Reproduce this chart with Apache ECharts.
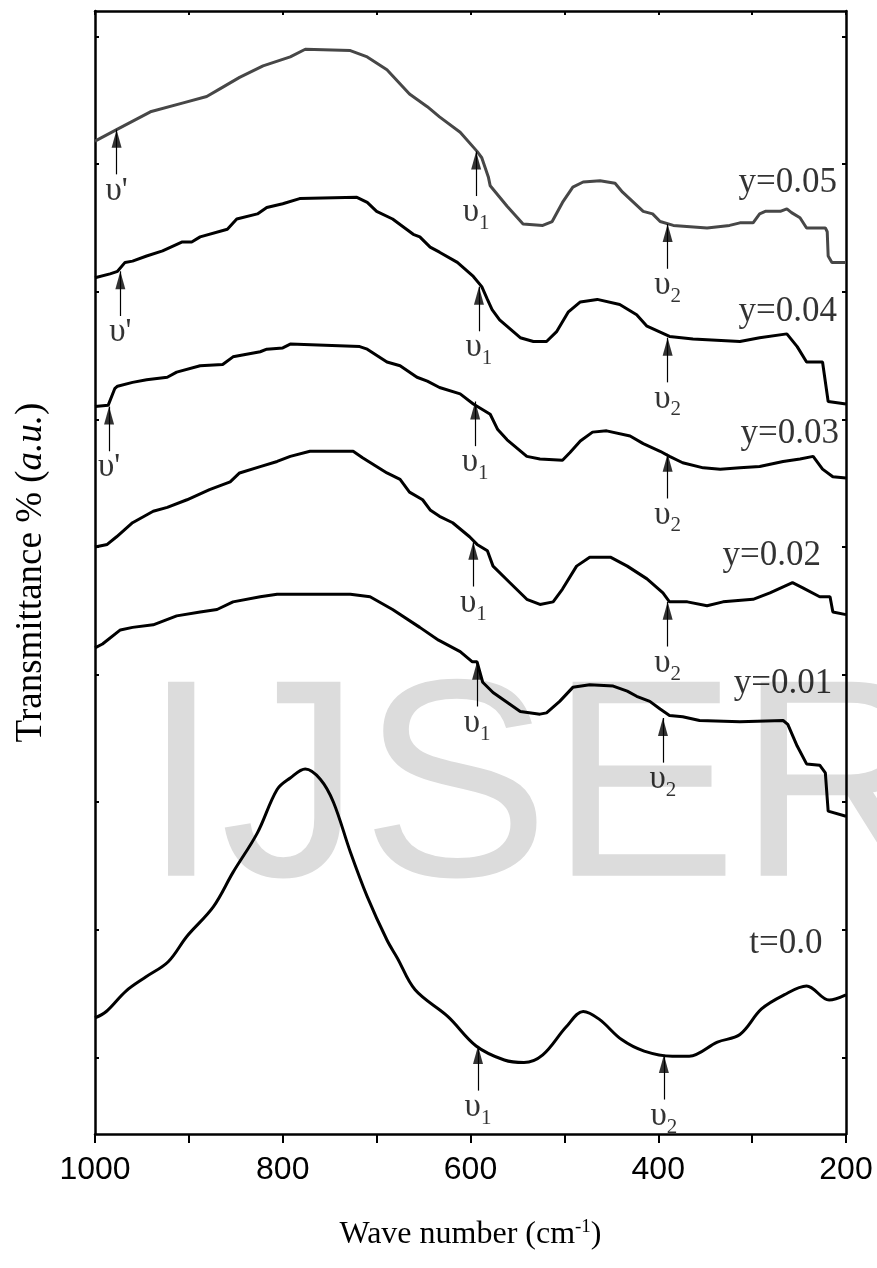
<!DOCTYPE html>
<html>
<head>
<meta charset="utf-8">
<script src="https://cdn.jsdelivr.net/npm/echarts@6/dist/echarts.min.js"></script>
<style>
  html, body { margin: 0; padding: 0; background: #fff; }
  #main { width: 877px; height: 1268px; }
</style>
</head>
<body>
<div id="main"></div>
<script>
// FTIR spectra, transmittance in arbitrary units, [wave number, value]
var curveY005 = [[1000,7.18],[977,7.27],[941,7.41],[906,7.48],[881,7.53],[867,7.59],[846,7.68],[821,7.77],[792,7.84],[776,7.90],[728,7.89],[710,7.84],[689,7.74],[665,7.55],[646,7.45],[633,7.37],[611,7.25],[593,7.10],[588,7.05],[581,6.90],[579,6.83],[561,6.67],[544,6.53],[523,6.52],[513,6.55],[502,6.70],[491,6.82],[480,6.86],[462,6.87],[446,6.85],[438,6.78],[416,6.63],[406,6.61],[398,6.55],[384,6.52],[348,6.50],[324,6.52],[313,6.54],[299,6.54],[292,6.61],[286,6.63],[270,6.63],[263,6.65],[258,6.62],[249,6.58],[242,6.50],[222,6.50],[220,6.47],[219,6.28],[215,6.23],[200,6.23]];
var curveY004 = [[1000,6.11],[984,6.14],[976,6.16],[968,6.23],[960,6.24],[945,6.28],[928,6.32],[907,6.39],[897,6.39],[888,6.43],[859,6.49],[849,6.57],[827,6.61],[817,6.66],[800,6.69],[782,6.73],[721,6.74],[710,6.70],[700,6.63],[683,6.57],[661,6.45],[654,6.43],[643,6.35],[633,6.31],[614,6.23],[597,6.12],[588,6.04],[582,5.94],[577,5.86],[569,5.78],[547,5.64],[533,5.61],[519,5.61],[508,5.69],[496,5.84],[483,5.92],[465,5.94],[441,5.90],[423,5.82],[412,5.73],[388,5.65],[363,5.63],[313,5.61],[292,5.64],[263,5.67],[252,5.57],[242,5.45],[225,5.45],[219,5.14],[200,5.12]];
var curveY003 = [[1000,5.10],[986,5.11],[979,5.24],[976,5.26],[960,5.29],[945,5.31],[923,5.33],[913,5.37],[888,5.42],[864,5.43],[853,5.49],[824,5.53],[817,5.55],[800,5.56],[792,5.59],[718,5.57],[710,5.55],[689,5.45],[675,5.42],[657,5.33],[646,5.30],[633,5.25],[611,5.20],[597,5.12],[579,5.04],[571,4.92],[561,4.84],[540,4.71],[526,4.69],[502,4.68],[494,4.74],[483,4.83],[470,4.90],[455,4.91],[430,4.87],[416,4.81],[398,4.75],[388,4.71],[374,4.66],[352,4.62],[334,4.61],[313,4.62],[292,4.63],[267,4.67],[249,4.69],[235,4.71],[225,4.61],[214,4.55],[200,4.54]];
var curveY002 = [[1000,4.00],[987,4.02],[977,4.08],[960,4.19],[938,4.28],[923,4.31],[902,4.37],[878,4.45],[856,4.51],[846,4.58],[824,4.63],[806,4.67],[792,4.71],[771,4.75],[725,4.75],[715,4.70],[689,4.58],[675,4.53],[665,4.43],[651,4.37],[643,4.29],[633,4.24],[619,4.19],[601,4.08],[593,4.02],[582,3.97],[576,3.85],[558,3.72],[540,3.59],[526,3.55],[512,3.57],[502,3.67],[487,3.85],[473,3.92],[451,3.92],[433,3.85],[412,3.75],[395,3.64],[388,3.57],[369,3.57],[348,3.54],[331,3.57],[299,3.59],[281,3.64],[257,3.72],[246,3.68],[228,3.61],[217,3.61],[214,3.49],[200,3.47]];
var curveY001 = [[1000,3.21],[992,3.24],[973,3.35],[960,3.37],[938,3.39],[913,3.46],[888,3.49],[870,3.51],[853,3.57],[824,3.61],[806,3.63],[728,3.63],[707,3.61],[683,3.51],[654,3.37],[634,3.27],[611,3.18],[598,3.10],[593,3.10],[587,2.94],[576,2.86],[547,2.71],[526,2.69],[519,2.70],[505,2.79],[491,2.90],[473,2.92],[448,2.91],[433,2.87],[423,2.83],[409,2.79],[398,2.73],[388,2.68],[374,2.67],[356,2.64],[313,2.63],[267,2.64],[262,2.61],[252,2.44],[242,2.30],[228,2.29],[222,2.23],[219,1.93],[200,1.89]];
var curveT00 = [[1000,0.31],[988,0.36],[967,0.52],[946,0.63],[922,0.75],[902,0.95],[874,1.18],[853,1.45],[827,1.76],[806,2.10],[792,2.19],[776,2.26],[760,2.18],[746,2.00],[728,1.61],[710,1.26],[689,0.92],[678,0.78],[659,0.53],[624,0.32],[594,0.09],[564,-0.02],[543,-0.04],[523,0.02],[498,0.24],[480,0.36],[463,0.30],[439,0.14],[415,0.05],[385,0.01],[367,0.01],[337,0.12],[313,0.18],[290,0.38],[266,0.49],[242,0.56],[218,0.45],[200,0.49]];

// curve names and where their labels sit
var curveNames = ['y=0.05', 'y=0.04', 'y=0.03', 'y=0.02', 'y=0.01', 't=0.0'];
var curveLabelPos = [[262,6.85],[262,5.84],[260,4.89],[279,3.93],[267,2.93],[264,0.89]];

// band arrows: [wave number, curve value at tip, mark]
var bandMarks = [
  [977,7.27,"'"],[594,7.10,'1'],[390,6.53,'2'],
  [973,6.16,"'"],[591,6.04,'1'],[390,5.64,'2'],
  [985,5.10,"'"],[595,5.14,'1'],[390,4.73,'2'],
  [597,4.04,'1'],[390,3.57,'2'],
  [593,3.10,'1'],[395,2.66,'2'],
  [592,0.09,'1'],[394,0.02,'2']
];
var arrowLen = 0.35;

var xTicks = [200, 1000, 100];      // min, max, step
var yTickValues = [0,1,2,3,4,5,6,7,8];

var chart = echarts.init(document.getElementById('main'));
var serif = '"Liberation Serif", "Times New Roman", serif';
var sans = '"Liberation Sans", Arial, sans-serif';

function curveSeries(name, data, color) {
  return {
    name: name,
    type: 'line',
    data: data,
    showSymbol: false,
    smooth: name === 't=0.0' ? 0.35 : false,
    lineStyle: { color: color, width: 3 },
    z: 3
  };
}

var option = {
  backgroundColor: '#fff',
  animation: false,
  grid: { left: 95, right: 31, top: 11, bottom: 134 },
  graphic: [{
    type: 'text',
    z: -10,
    style: {
      x: 142, y: 798,
      text: 'IJSER',
      font: '282px "Liberation Sans", Arial, sans-serif',
      fill: '#dcdcdc',
      verticalAlign: 'middle'
    }
  }],
  xAxis: [{
    type: 'value',
    min: xTicks[0], max: xTicks[1], interval: xTicks[2],
    inverse: true,
    position: 'bottom',
    name: 'Wave number (cm{sup|-1})',
    nameLocation: 'middle',
    nameGap: 84,
    nameTextStyle: {
      fontFamily: serif, fontSize: 32, color: '#000',
      rich: { sup: { fontFamily: serif, fontSize: 19, color: '#000', padding: [0, 0, 14, 0], verticalAlign: 'bottom' } }
    },
    axisLine: { onZero: false, lineStyle: { color: '#000', width: 2.5 } },
    axisTick: { inside: false, length: 9, lineStyle: { color: '#000', width: 2 } },
    axisLabel: {
      margin: 20, fontFamily: sans, fontSize: 32, color: '#000',
      formatter: function (v) { return v % 200 === 0 ? String(v) : ''; }
    },
    splitLine: { show: false }
  }, {
    type: 'value',
    min: xTicks[0], max: xTicks[1], interval: xTicks[2],
    inverse: true,
    position: 'top',
    axisLine: { onZero: false, lineStyle: { color: '#000', width: 2.5 } },
    axisTick: { inside: true, length: 4, lineStyle: { color: '#000', width: 2 } },
    axisLabel: { show: false },
    splitLine: { show: false }
  }],
  yAxis: [{
    type: 'value',
    min: -0.6, max: 8.2,
    position: 'left',
    name: 'Transmittance % ({it|a.u.})',
    nameLocation: 'middle',
    nameGap: 45,
    nameTextStyle: {
      fontFamily: serif, fontSize: 37, color: '#000',
      rich: { it: { fontFamily: serif, fontSize: 37, fontStyle: 'italic', color: '#000' } }
    },
    axisLine: { show: true, onZero: false, lineStyle: { color: '#000', width: 2.5 } },
    axisTick: { show: true, inside: true, length: 4, customValues: yTickValues, lineStyle: { color: '#000', width: 2 } },
    axisLabel: { show: false },
    splitLine: { show: false }
  }, {
    type: 'value',
    min: -0.6, max: 8.2,
    position: 'right',
    axisLine: { show: true, onZero: false, lineStyle: { color: '#000', width: 2.5 } },
    axisTick: { show: true, inside: true, length: 4, customValues: yTickValues, lineStyle: { color: '#000', width: 2 } },
    axisLabel: { show: false },
    splitLine: { show: false }
  }],
  series: [
    curveSeries('y=0.05', curveY005, '#474747'),
    curveSeries('y=0.04', curveY004, '#000'),
    curveSeries('y=0.03', curveY003, '#000'),
    curveSeries('y=0.02', curveY002, '#000'),
    curveSeries('y=0.01', curveY001, '#000'),
    curveSeries('t=0.0', curveT00, '#000'),
    {
      // arrow heads
      type: 'scatter',
      symbol: 'triangle',
      symbolSize: [10, 18],
      symbolOffset: [0, '50%'],
      itemStyle: { color: '#000' },
      data: bandMarks.map(function (m) { return [m[0], m[1]]; }),
      z: 4,
      markLine: {
        silent: true,
        symbol: 'none',
        label: { show: false },
        lineStyle: { color: '#000', width: 1.2, type: 'solid' },
        data: bandMarks.map(function (m) {
          return [{ coord: [m[0], m[1]] }, { coord: [m[0], m[1] - arrowLen] }];
        })
      }
    },
    {
      // band labels
      type: 'scatter',
      symbolSize: 0,
      data: bandMarks.map(function (m) { return { value: [m[0], m[1] - arrowLen], name: m[2] }; }),
      label: {
        show: true,
        position: 'bottom',
        distance: 0,
        formatter: function (p) {
          return p.name === "'" ? "{u|\u03c5'}" : '{u|\u03c5}{s|' + p.name + '}';
        },
        rich: {
          u: { fontFamily: serif, fontSize: 33, color: '#000', lineHeight: 32, verticalAlign: 'top' },
          s: { fontFamily: serif, fontSize: 21, color: '#000', lineHeight: 20, padding: [17, 0, 0, 0], verticalAlign: 'top' }
        }
      },
      z: 4
    },
    {
      // curve names
      type: 'scatter',
      symbolSize: 0,
      data: curveNames.map(function (n, i) { return { value: curveLabelPos[i], name: n }; }),
      label: {
        show: true,
        position: 'inside',
        formatter: '{b}',
        fontFamily: serif,
        fontSize: 35,
        color: '#000'
      },
      z: 4
    }
  ]
};

chart.setOption(option);
</script>
</body>
</html>
